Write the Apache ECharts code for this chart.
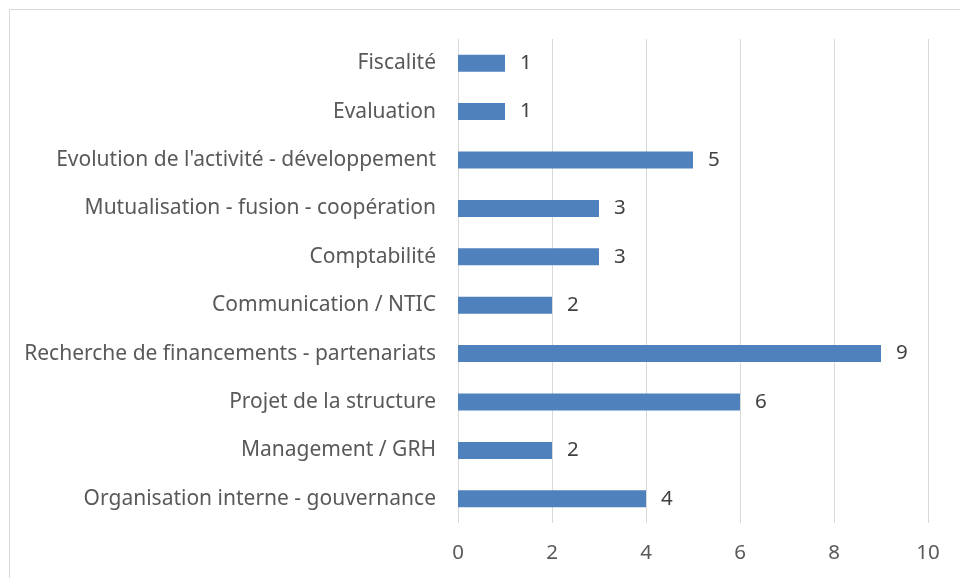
<!DOCTYPE html>
<html>
<head>
<meta charset="utf-8">
<script src="https://cdn.jsdelivr.net/npm/echarts@6/dist/echarts.min.js"></script>
<style>
  html, body { margin: 0; padding: 0; background: #fff; }
  #chartmain1 { width: 960px; height: 578px; }
</style>
</head>
<body>
<div id="chartmain1"></div>
<script>
var categories = ['Organisation interne - gouvernance', 'Management / GRH', 'Projet de la structure',
    'Recherche de financements - partenariats', 'Communication / NTIC', 'Comptabilité',
    'Mutualisation - fusion - coopération', "Evolution de l'activité - développement", 'Evaluation', 'Fiscalité'];
var values = [4, 2, 6, 9, 2, 3, 3, 5, 1, 1];
var xTicks = [0, 10, 2];   // min, max, interval

var myChart = echarts.init(document.getElementById('chartmain1'));
var font = 'Noto Sans';
var option = {
    animation: false,
    graphic: [
        {
            type: 'rect',
            shape: {x: 9.5, y: 9.5, width: 1000, height: 1000},
            style: {fill: 'none', stroke: '#d9d9d9', lineWidth: 1}
        }
    ],
    grid: {left: 458, right: 32, top: 39, bottom: 55, containLabel: false},
    xAxis: {
        type: 'value',
        min: xTicks[0],
        max: xTicks[1],
        interval: xTicks[2],
        axisLine: {show: false},
        axisTick: {show: false},
        splitLine: {lineStyle: {color: '#d9d9d9', width: 1}},
        axisLabel: {color: '#595959', fontFamily: font, fontSize: 20.5, margin: 20}
    },
    yAxis: {
        type: 'category',
        data: categories,
        axisLine: {show: false},
        axisTick: {show: false},
        axisLabel: {color: '#595959', fontFamily: font, fontSize: 21, margin: 22}
    },
    series: [
        {
            type: 'bar',
            data: values,
            barWidth: 17,
            itemStyle: {color: '#4f81bd'},
            label: {
                show: true,
                position: 'right',
                distance: 15,
                color: '#404040',
                fontFamily: font,
                fontSize: 20.5
            }
        }
    ]
};
myChart.setOption(option);
</script>
</body>
</html>
